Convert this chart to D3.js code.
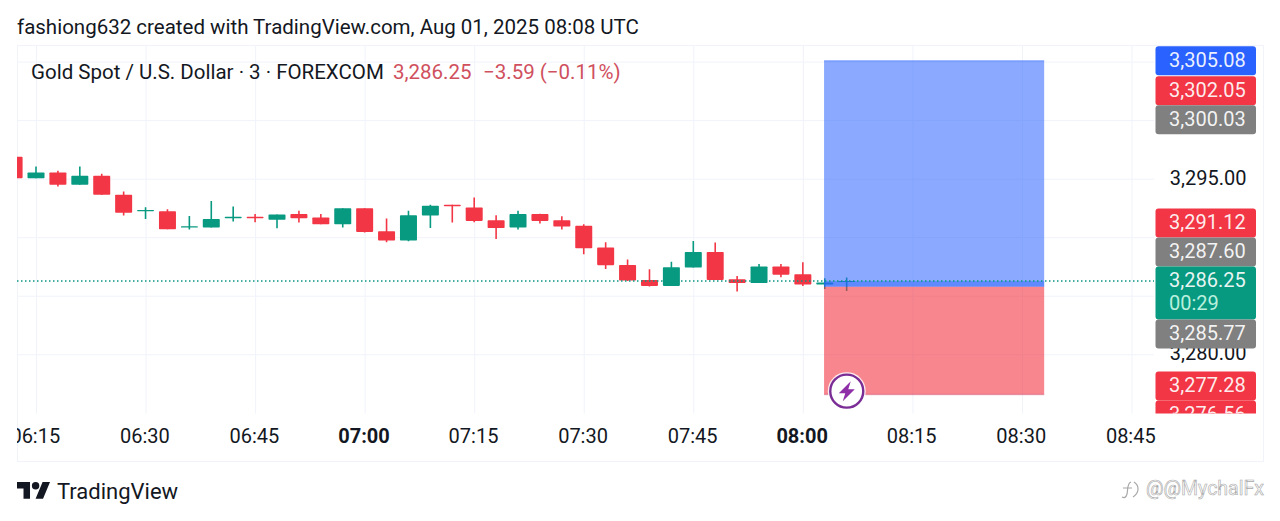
<!DOCTYPE html>
<html>
<head>
<meta charset="utf-8">
<script src="https://cdn.jsdelivr.net/npm/d3@7"></script>
<style>
    body { margin: 0; background: #fff; }
    svg { display: block; font-family: Roboto, sans-serif; }
    .domain { display: none; }
</style>
</head>
<body>
<svg id="chart" width="1280" height="521"></svg>
<script>
// candles, one every 3 minutes from 06:12 UTC
var first_bar = '2025-08-01T06:12:00Z';
var opens = [3296.86, 3295.04, 3295.52, 3294.47, 3295.24, 3293.62, 3292.22, 3292.22, 3290.82, 3290.82, 3291.62, 3291.74, 3291.48, 3291.97, 3291.68, 3291.11, 3292.48, 3290.51, 3289.71, 3291.85, 3292.76, 3292.53, 3291.45, 3290.82, 3291.97, 3291.45, 3290.97, 3289.11, 3287.63, 3286.35, 3285.84, 3287.40, 3288.74, 3286.41, 3286.09, 3287.49, 3286.84, 3285.95, 3286.20];
var closes = [3295.04, 3295.52, 3294.47, 3295.24, 3293.62, 3292.08, 3292.33, 3290.68, 3290.94, 3291.56, 3291.74, 3291.62, 3291.93, 3291.62, 3291.11, 3292.48, 3290.45, 3289.71, 3291.88, 3292.68, 3292.65, 3291.39, 3290.79, 3291.97, 3291.39, 3290.91, 3289.06, 3287.61, 3286.29, 3285.84, 3287.44, 3288.74, 3286.35, 3286.09, 3287.49, 3286.80, 3285.95, 3286.12, 3286.25];
var highs = [3296.86, 3296.03, 3295.67, 3296.03, 3295.41, 3293.90, 3292.56, 3292.39, 3291.82, 3293.10, 3292.62, 3291.99, 3291.93, 3292.25, 3291.97, 3292.48, 3292.48, 3291.59, 3292.25, 3292.76, 3292.76, 3293.38, 3291.88, 3292.25, 3292.00, 3291.79, 3291.11, 3289.57, 3288.09, 3287.26, 3287.91, 3289.68, 3289.54, 3286.69, 3287.72, 3287.72, 3287.86, 3286.50, 3286.55];
var lows = [3295.04, 3295.04, 3294.32, 3294.47, 3293.62, 3291.85, 3291.56, 3290.68, 3290.65, 3290.82, 3291.33, 3291.28, 3290.77, 3291.25, 3291.11, 3290.82, 3290.39, 3289.57, 3289.66, 3290.79, 3291.25, 3291.28, 3289.85, 3290.65, 3291.16, 3290.65, 3288.55, 3287.29, 3286.26, 3285.78, 3285.84, 3287.40, 3286.35, 3285.35, 3286.09, 3286.58, 3285.84, 3285.58, 3285.41];

var time_ticks = ['06:15', '06:30', '06:45', '07:00', '07:15', '07:30', '07:45', '08:00', '08:15', '08:30', '08:45'];
var bold_ticks = ['07:00', '08:00'];
var grid_prices = [3280, 3285, 3290, 3295, 3300, 3305];
// the other tick labels sit fully under the price tags
var label_prices = [3280, 3295];

// long position tool
var position_start = '08:03', position_end = '08:33';
var target_price = 3305.08, entry_price = 3285.77, stop_price = 3276.56;
var last_price = 3286.25, countdown = '00:29';

var price_tags = [
    { price: 3305.08, color: '#2962ff' },
    { price: 3302.05, color: '#f23645' },
    { price: 3300.03, color: '#808080' },
    { price: 3291.12, color: '#f23645' },
    { price: 3287.60, color: '#808080' },
    { price: 3286.25, color: '#089981', sub: countdown },
    { price: 3285.77, color: '#808080' },
    { price: 3277.28, color: '#f23645' },
    { price: 3276.56, color: '#f23645' },
];

var up_color = '#089981', down_color = '#f23645', grid_color = '#f0f3fa', text_color = '#131722';
var pane = { left: 17, right: 1154, top: 46, bottom: 413.5 };

function hhmm(s) { return new Date('2025-08-01T' + s + ':00Z'); }

var svg = d3.select('#chart');
var bars = d3.utcMinute.every(3).range(new Date(first_bar), d3.utcMinute.offset(new Date(first_bar), 3 * opens.length));

var x = d3.scaleUtc().domain([hhmm('06:15'), hhmm('08:45')]).range([36, 1131.5]);
var y = d3.scaleLinear().domain([3274.94, 3306.33]).range([pane.bottom, pane.top]);
var body_width = 17;

svg.append('clipPath').attr('id', 'pane-clip').append('rect')
    .attr('x', pane.left).attr('y', pane.top)
    .attr('width', pane.right - pane.left).attr('height', pane.bottom - pane.top);
svg.append('clipPath').attr('id', 'time-clip').append('rect')
    .attr('x', pane.left).attr('y', pane.bottom)
    .attr('width', pane.right - pane.left + 2).attr('height', 46);
svg.append('clipPath').attr('id', 'tag-clip').append('rect')
    .attr('x', pane.right).attr('y', pane.top - 2)
    .attr('width', 110).attr('height', pane.bottom - pane.top + 2);

// frame
svg.append('rect')
    .attr('x', 17.5).attr('y', 45.5).attr('width', 1246).attr('height', 416)
    .attr('fill', 'none').attr('stroke', grid_color);

// grid
var grid_y = svg.append('g')
    .attr('transform', 'translate(' + pane.left + ',0)')
    .call(d3.axisRight(y).tickValues(grid_prices).tickSize(pane.right - pane.left).tickFormat(''));
grid_y.selectAll('line').attr('stroke', grid_color);

var grid_x = svg.append('g')
    .attr('transform', 'translate(0,' + pane.top + ')')
    .call(d3.axisBottom(x).tickValues(time_ticks.map(hhmm)).tickSize(pane.bottom - pane.top).tickFormat(''));
grid_x.selectAll('line').attr('stroke', grid_color);

// candles
var candles = svg.append('g').attr('clip-path', 'url(#pane-clip)')
    .selectAll('g')
    .data(bars)
    .enter().append('g')
        .attr('fill', (d, i) => closes[i] >= opens[i] ? up_color : down_color)
        .attr('stroke', (d, i) => closes[i] >= opens[i] ? up_color : down_color);

candles.append('line')
    .attr('x1', d => x(d)).attr('x2', d => x(d))
    .attr('y1', (d, i) => y(highs[i]))
    .attr('y2', (d, i) => y(lows[i]))
    .attr('stroke-width', 1.6);

candles.append('rect')
    .attr('x', d => x(d) - body_width / 2)
    .attr('width', body_width)
    .attr('y', (d, i) => y(Math.max(opens[i], closes[i])))
    .attr('height', (d, i) => Math.max(1, Math.abs(y(opens[i]) - y(closes[i]))))
    .attr('rx', 0.8)
    .attr('stroke', 'none');

// position zones
var px0 = x(hhmm(position_start)) - 0.7, px1 = x(hhmm(position_end)) + 0.3;
svg.append('rect')
    .attr('x', px0).attr('width', px1 - px0)
    .attr('y', y(target_price)).attr('height', y(entry_price) - y(target_price))
    .attr('fill', '#2962ff').attr('fill-opacity', 0.54);
svg.append('rect')
    .attr('x', px0).attr('width', px1 - px0)
    .attr('y', y(entry_price)).attr('height', y(stop_price) - y(entry_price))
    .attr('fill', '#f23645').attr('fill-opacity', 0.6);
svg.append('rect')
    .attr('x', px0).attr('width', px1 - px0)
    .attr('y', y(last_price)).attr('height', y(entry_price) - y(last_price))
    .attr('fill', '#2962ff').attr('fill-opacity', 0.45);
svg.append('line')
    .attr('x1', px0).attr('x2', px1)
    .attr('y1', y(target_price)).attr('y2', y(target_price))
    .attr('stroke', '#2962ff').attr('stroke-opacity', 0.3).attr('stroke-width', 1.5);
svg.append('line')
    .attr('x1', px0).attr('x2', px1)
    .attr('y1', y(stop_price)).attr('y2', y(stop_price))
    .attr('stroke', '#c03a60').attr('stroke-opacity', 0.35).attr('stroke-width', 1.5);

// last price line
svg.append('line')
    .attr('x1', pane.left).attr('x2', pane.right)
    .attr('y1', y(last_price)).attr('y2', y(last_price))
    .attr('stroke', up_color).attr('stroke-width', 1.5).attr('stroke-dasharray', '1.5 2.5');

// lightning badge
var badge = svg.append('g').attr('transform', 'translate(' + (px0 + 22.7) + ',' + (y(stop_price) - 3.4) + ')');
badge.append('circle').attr('r', 19).attr('fill', '#fff').attr('fill-opacity', 0.85);
badge.append('circle').attr('r', 16.5).attr('fill', '#fff').attr('stroke', '#7b2d96').attr('stroke-width', 2.4);
badge.append('path').attr('d', 'M4 -10L-8 2H-1.5L-4 10L8 -2H1.5Z').attr('fill', '#8e2fa8');

// price axis, tags go over it
var axis_y = svg.append('g')
    .attr('transform', 'translate(1246.5,-1)')
    .call(d3.axisLeft(y).tickValues(label_prices).tickSize(0).tickPadding(0).tickFormat(d3.format(',.2f')));
axis_y.selectAll('text')
    .attr('fill', text_color).attr('font-size', 20).attr('font-family', 'Roboto, sans-serif');

// tags push away from the last price tag so they never overlap
var tag_h = 29, sub_h = 24;
var anchor = price_tags.findIndex(t => t.price == last_price);
price_tags.forEach(function(t) { t.cy = y(t.price); });
for (var i = anchor - 1; i >= 0; i--)
    price_tags[i].cy = Math.min(price_tags[i].cy, price_tags[i + 1].cy - tag_h);
price_tags[anchor + 1].cy = Math.max(price_tags[anchor + 1].cy, price_tags[anchor].cy + tag_h + sub_h);
for (var j = anchor + 2; j < price_tags.length; j++)
    price_tags[j].cy = Math.max(price_tags[j].cy, price_tags[j - 1].cy + tag_h);

var tags = svg.append('g').attr('clip-path', 'url(#tag-clip)')
    .selectAll('g')
    .data(price_tags)
    .enter().append('g');

tags.append('rect')
    .attr('x', 1155.5).attr('width', 100.5)
    .attr('y', d => d.cy - tag_h / 2)
    .attr('height', d => d.sub ? tag_h + sub_h : tag_h)
    .attr('rx', 3)
    .attr('fill', d => d.color);

tags.append('text')
    .attr('x', 1169).attr('y', d => d.cy + 6)
    .attr('font-size', 20).attr('fill', '#fff').attr('fill-opacity', 0.92)
    .text(d => d3.format(',.2f')(d.price));

tags.filter(d => d.sub).append('text')
    .attr('x', 1169).attr('y', d => d.cy + 29)
    .attr('font-size', 20).attr('fill', '#b9f0dd')
    .text(d => d.sub);

// time axis
var axis_x = svg.append('g').attr('clip-path', 'url(#time-clip)').append('g')
    .attr('transform', 'translate(-1.2,' + pane.bottom + ')')
    .call(d3.axisBottom(x).tickValues(time_ticks.map(hhmm)).tickSize(0).tickPadding(15).tickFormat(d3.utcFormat('%H:%M')));
axis_x.selectAll('text')
    .attr('fill', text_color).attr('font-size', 20).attr('font-family', 'Roboto, sans-serif')
    .attr('font-weight', d => bold_ticks.indexOf(d3.utcFormat('%H:%M')(d)) >= 0 ? 700 : 400);

// texts
svg.append('text')
    .attr('x', 17).attr('y', 33.5)
    .attr('font-size', 20.5).attr('fill', text_color)
    .text('fashiong632 created with TradingView.com, Aug 01, 2025 08:08 UTC');

svg.append('text')
    .attr('x', 31).attr('y', 79)
    .attr('font-size', 20.5).attr('fill', text_color)
    .text('Gold Spot / U.S. Dollar · 3 · FOREXCOM');

svg.append('text')
    .attr('x', 393).attr('y', 79)
    .attr('font-size', 20.5).attr('fill', '#d0505e')
    .text('3,286.25');

svg.append('text')
    .attr('x', 483).attr('y', 79)
    .attr('font-size', 20.5).attr('fill', '#d0505e')
    .text('−3.59 (−0.11%)');

// TradingView logo
var logo = svg.append('g').attr('transform', 'translate(17,478.3) scale(0.93)').attr('fill', text_color);
logo.append('path').attr('d', 'M14 22H7V11H0V4h14v18zM28 22h-8l7.5-18h8L28 22z');
logo.append('circle').attr('cx', 20).attr('cy', 8).attr('r', 4);

svg.append('text')
    .attr('x', 57).attr('y', 499)
    .attr('font-size', 22).attr('fill', text_color)
    .text('TradingView');

// watermark
var mark = svg.append('g').attr('fill', '#fff').attr('stroke', '#a8a8a8').attr('stroke-width', 0.6);
mark.append('path')
    .attr('fill', 'none').attr('stroke-width', 1.2)
    .attr('d', 'M1131 482C1127 483 1128 490 1127 494C1126 498 1124 498 1122 497M1123 488H1132M1134 482C1140 486 1139 493 1133 497');
mark.append('text')
    .attr('x', 1146).attr('y', 495)
    .attr('font-size', 19.5)
    .text('@@MychalFx');
</script>
</body>
</html>
